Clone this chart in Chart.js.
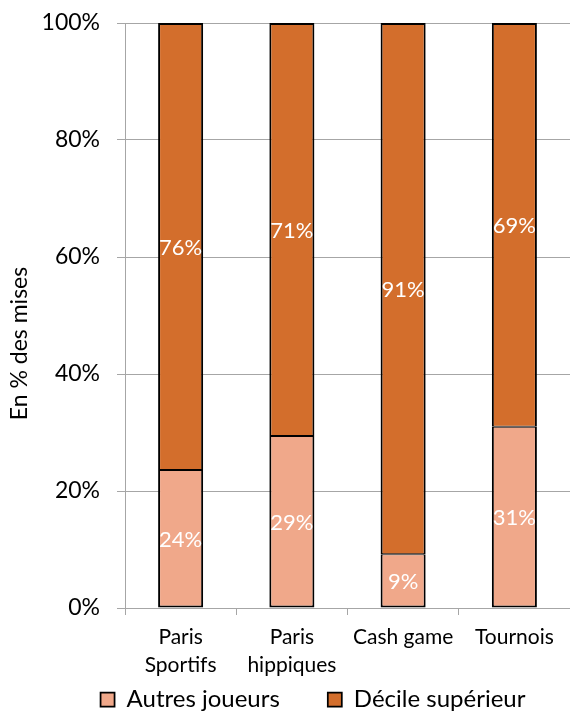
<!DOCTYPE html>
<html>
<head>
<meta charset="utf-8">
<script src="https://cdn.jsdelivr.net/npm/chart.js@4/dist/chart.umd.min.js"></script>
<style>
  html, body { margin: 0; padding: 0; background: #fff; }
  #wrap { width: 570px; height: 713px; }
</style>
</head>
<body>
<div id="wrap"><canvas id="chart" width="570" height="713"></canvas></div>
<script>
// categories and values
const categories = [['Paris', 'Sportifs'], ['Paris', 'hippiques'], 'Cash game', 'Tournois'];
const autresJoueurs = [23.6, 29.4, 9.2, 31];
const decileSuperieur = [76.4, 70.6, 90.8, 69];
const autresLabels = ['24%', '29%', '9%', '31%'];
const decileLabels = ['76%', '71%', '91%', '69%'];

const FONT = 'Lato, "Open Sans", sans-serif';
const LEGEND_PAD = 48;

// white labels centred in every segment
const segmentLabels = {
  id: 'segmentLabels',
  afterDatasetsDraw(chart) {
    const ctx = chart.ctx;
    ctx.save();
    ctx.fillStyle = '#fff';
    ctx.font = '22px ' + FONT;
    ctx.textAlign = 'center';
    ctx.textBaseline = 'middle';
    chart.data.datasets.forEach((ds, i) => {
      const meta = chart.getDatasetMeta(i);
      meta.data.forEach((bar, j) => {
        const mid = (bar.y + bar.base) / 2;
        ctx.fillText(ds.segLabels[j], bar.x, mid + 1);
      });
    });
    ctx.restore();
  }
};

// legend a bit right of centre and low; y title a bit lower, like the original
const placeLegend = {
  id: 'placeLegend',
  afterLayout(chart) {
    const lg = chart.legend;
    if (lg) {
      lg.left += 28;
      lg.right += 28;
      lg.top = 702 - 14.4 - LEGEND_PAD;
    }
    const ys = chart.scales.y;
    if (ys && !ys._titleShifted) {
      const orig = ys.drawTitle.bind(ys);
      ys.drawTitle = function () {
        this.top += 28; this.bottom += 28;
        orig();
        this.top -= 28; this.bottom -= 28;
      };
      ys._titleShifted = true;
    }
  }
};

new Chart(document.getElementById('chart'), {
  type: 'bar',
  data: {
    labels: categories,
    datasets: [
      {
        label: 'Autres joueurs',
        data: autresJoueurs,
        segLabels: autresLabels,
        backgroundColor: '#F0A88A',
        borderColor: '#000',
        borderWidth: { left: 2, right: 2, top: 1, bottom: 2 },
        borderSkipped: false,
        barPercentage: 0.405,
        categoryPercentage: 1
      },
      {
        label: 'Décile supérieur',
        data: decileSuperieur,
        segLabels: decileLabels,
        backgroundColor: '#D36E2C',
        borderColor: '#000',
        borderWidth: { left: 2, right: 2, top: 2, bottom: 1 },
        borderSkipped: false,
        barPercentage: 0.405,
        categoryPercentage: 1
      }
    ]
  },
  options: {
    responsive: false,
    animation: false,
    layout: { padding: { top: 0, right: 0, left: 0, bottom: 0 } },
    plugins: {
      legend: {
        position: 'bottom',
        maxHeight: 34,
        labels: {
          color: '#000',
          font: { family: FONT, size: 24 },
          boxWidth: 14,
          boxHeight: 14,
          padding: LEGEND_PAD
        }
      },
      tooltip: { enabled: false }
    },
    scales: {
      x: {
        stacked: true,
        afterFit: s => { s.height = 71; },
        grid: {
          offset: true,
          drawOnChartArea: false,
          color: '#a6a6a6',
          tickLength: 7
        },
        border: { color: '#a6a6a6', width: 1 },
        ticks: {
          color: '#000',
          font: { family: FONT, size: 21, lineHeight: 1.33 },
          padding: 8,
          maxRotation: 0
        }
      },
      y: {
        stacked: true,
        min: 0,
        max: 100,
        afterFit: s => {
          s.width = 125;
          s.paddingTop = 23;
          s.paddingBottom = 14;
        },
        ticks: {
          stepSize: 20,
          color: '#000',
          font: { family: FONT, size: 23 },
          padding: 17,
          callback: v => v + '%'
        },
        grid: { color: '#a6a6a6', tickLength: 8 },
        border: { color: '#a6a6a6', width: 1 },
        title: {
          display: true,
          text: 'En % des mises',
          color: '#000',
          font: { family: FONT, size: 23 },
          padding: { top: 6, bottom: 0 }
        }
      }
    }
  },
  plugins: [segmentLabels, placeLegend]
});
</script>
</body>
</html>
